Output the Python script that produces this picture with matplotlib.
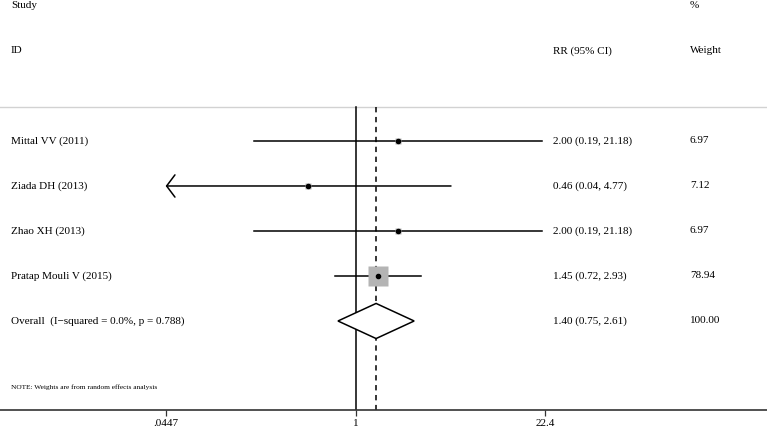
import numpy as np
import matplotlib.pyplot as plt
from matplotlib.patches import Polygon

plt.rcParams['font.family'] = ['Liberation Serif', 'DejaVu Serif']

studies = ["Mittal VV (2011)", "Ziada DH (2013)", "Zhao XH (2013)", "Pratap Mouli V (2015)"]
rr = [2.00, 0.46, 2.00, 1.45]
lo = [0.19, 0.04, 0.19, 0.72]
hi = [21.18, 4.77, 21.18, 2.93]
weights = [6.97, 7.12, 6.97, 78.94]

overall_label = "Overall  (I\u2212squared = 0.0%, p = 0.788)"
overall = (1.40, 0.75, 2.61)
overall_weight = 100.00

ticks = [0.0447, 1, 22.4]
tick_labels = [".0447", "1", "22.4"]
note = "NOTE: Weights are from random effects analysis"

fig = plt.figure(figsize=(7.67, 4.32), dpi=100)
ax = fig.add_axes([0, 22 / 432, 1, 410 / 432])
ax.set_xscale("log")
ax.set_xlim(0.00297, 841)
ax.set_ylim(5.978, -3.133)

fs = 8
x_name, x_ci, x_w = 11 / 767, 553 / 767, 690 / 767
tr = ax.get_yaxis_transform()  # x in axes, y in data

# headers
ax.text(x_name, -3, "Study", transform=tr, va="center", fontsize=fs)
ax.text(x_name, -2, "ID", transform=tr, va="center", fontsize=fs)
ax.text(x_ci, -2, "RR (95% CI)", transform=tr, va="center", fontsize=fs)
ax.text(x_w, -3, "%", transform=tr, va="center", fontsize=fs)
ax.text(x_w, -2, "Weight", transform=tr, va="center", fontsize=fs)
top = -0.756
ax.axhline(top, color="#d2d2d2", lw=1.0)

xmin_t, xmax_t = ticks[0], ticks[-1]
ax.plot([1, 1], [top, 5.978], color="black", lw=1.1)
ax.plot([overall[0], overall[0]], [top, 5.978], color="black", lw=1.1,
        ls=(0, (3.5, 3)))

for i, (name, r, l, h, w) in enumerate(zip(studies, rr, lo, hi, weights)):
    l_c = max(l, xmin_t)
    h_c = min(h, xmax_t)
    if l < xmin_t:
        ax.annotate("", xy=(l_c, i), xytext=(h_c, i),
                    arrowprops=dict(arrowstyle="->,head_length=0.6,head_width=0.8",
                                    lw=1.1, color="black", shrinkA=0, shrinkB=0))
    else:
        ax.plot([l_c, h_c], [i, i], color="black", lw=1.1)
    side = 2.14 * np.sqrt(w) * 0.72
    ax.plot(r, i, marker="s", ms=side, color="#b4b4b4", mec="none", zorder=3)
    ax.plot(r, i, marker="o", ms=3, color="black", zorder=4)
    ax.text(x_name, i, name, transform=tr, va="center", fontsize=fs)
    ax.text(x_ci, i, f"{r:.2f} ({l:.2f}, {h:.2f})", transform=tr, va="center", fontsize=fs)
    ax.text(x_w, i, f"{w:.2f}", transform=tr, va="center", fontsize=fs)

# overall diamond
yo = len(studies)
est, olo, ohi = overall
diamond = Polygon([(olo, yo), (est, yo - 0.39), (ohi, yo), (est, yo + 0.39)],
                  closed=True, facecolor="white", edgecolor="black", lw=1.1, zorder=3)
ax.add_patch(diamond)
ax.text(x_name, yo, overall_label, transform=tr, va="center", fontsize=fs)
ax.text(x_ci, yo, f"{est:.2f} ({olo:.2f}, {ohi:.2f})", transform=tr, va="center", fontsize=fs)
ax.text(x_w, yo, f"{overall_weight:.2f}", transform=tr, va="center", fontsize=fs)

ax.text(x_name, 5.47, note, transform=tr, va="center", fontsize=5.3)

# axis
for s in ["left", "right", "top"]:
    ax.spines[s].set_visible(False)
ax.spines["bottom"].set_color("#333333")
ax.spines["bottom"].set_linewidth(1.2)
ax.set_yticks([])
ax.set_xticks(ticks)
ax.set_xticklabels(tick_labels)
ax.minorticks_off()
ax.tick_params(axis="x", direction="out", length=4.3, width=0.9, pad=2,
               labelsize=fs, color="#333333")

fig.savefig("out.png", dpi=100)
